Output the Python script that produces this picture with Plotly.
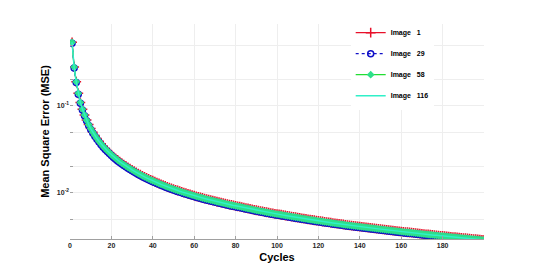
import plotly.graph_objects as go

cycles = list(range(1, 201))

# MSE (the four curves coincide at this resolution)
mse_values = [
    0.540, 0.280, 0.190, 0.140, 0.110, 0.0920, 0.0790, 0.0690, 0.0612, 0.0550,
    0.0500, 0.0458, 0.0423, 0.0393, 0.0367, 0.0344, 0.0324, 0.0306, 0.0290, 0.0275,
    0.0262, 0.0250, 0.0239, 0.0229, 0.0220, 0.0212, 0.0204, 0.0197, 0.0190, 0.0184,
    0.0178, 0.0172, 0.0167, 0.0162, 0.0157, 0.0153, 0.0149, 0.0145, 0.0141, 0.0138,
    0.01346, 0.01314, 0.01284, 0.01255, 0.01228, 0.01201, 0.01176, 0.01152, 0.01129, 0.01107,
    0.01086, 0.01066, 0.01047, 0.01028, 0.01010, 0.00993, 0.00976, 0.00960, 0.00944, 0.00930,
    0.00915, 0.00901, 0.00887, 0.00874, 0.00861, 0.00849, 0.00837, 0.00825, 0.00814, 0.00803,
    0.00792, 0.00782, 0.00772, 0.00762, 0.00753, 0.00744, 0.00735, 0.00726, 0.00718, 0.00710,
    0.00702, 0.00694, 0.00686, 0.00677, 0.00669, 0.00662, 0.00654, 0.00647, 0.00639, 0.00632,
    0.00625, 0.00618, 0.00612, 0.00605, 0.00599, 0.00593, 0.00587, 0.00581, 0.00575, 0.00569,
    0.005663, 0.005608, 0.005553, 0.005500, 0.005448, 0.005396, 0.005346, 0.005296, 0.005248, 0.005200,
    0.005153, 0.005107, 0.005062, 0.005018, 0.004974, 0.004931, 0.004889, 0.004847, 0.004807, 0.004767,
    0.004727, 0.004689, 0.004650, 0.004613, 0.004576, 0.004540, 0.004504, 0.004469, 0.004434, 0.004400,
    0.004366, 0.004333, 0.004301, 0.004269, 0.004237, 0.004206, 0.004175, 0.004145, 0.004115, 0.004086,
    0.004078, 0.004049, 0.004021, 0.003993, 0.003966, 0.003938, 0.003912, 0.003885, 0.003859, 0.003833,
    0.003808, 0.003783, 0.003758, 0.003734, 0.003710, 0.003686, 0.003662, 0.003639, 0.003616, 0.003594,
    0.003571, 0.003549, 0.003528, 0.003506, 0.003485, 0.003464, 0.003443, 0.003423, 0.003402, 0.003382,
    0.003363, 0.003343, 0.003324, 0.003305, 0.003286, 0.003267, 0.003249, 0.003230, 0.003212, 0.003194,
    0.003177, 0.003159, 0.003142, 0.003125, 0.003108, 0.003091, 0.003075, 0.003059, 0.003042, 0.003026,
    0.003010, 0.002995, 0.002979, 0.002964, 0.002949, 0.002934, 0.002919, 0.002904, 0.002889, 0.002875,
]

mse_image1 = mse_values
mse_image29 = mse_values
mse_image58 = mse_values
mse_image116 = mse_values

series_names = ["Image\u00a0\u00a0\u00a01", "Image\u00a0\u00a0\u00a029",
                "Image\u00a0\u00a0\u00a058", "Image\u00a0\u00a0\u00a0116"]

x_ticks = [0, 20, 40, 60, 80, 100, 120, 140, 160, 180]
y_tickvals = [0.005, 0.01, 0.02, 0.05, 0.1, 0.2, 0.5]
y_ticktext = ["", "10<sup>-2</sup>", "", "", "10<sup>-1</sup>", "", ""]

FONT = "Liberation Sans, Arial, sans-serif"
LOG_LO, LOG_HI = -2.53, -0.057

fig = go.Figure()

fig.add_trace(go.Scatter(
    x=cycles, y=mse_image1, name=series_names[0],
    mode="lines+markers", legendgroup="a",
    line=dict(color="#e8102a", width=1.2),
    marker=dict(symbol="cross-thin", size=7, line=dict(color="#e8102a", width=1.5)),
))
fig.add_trace(go.Scatter(
    x=cycles, y=mse_image29, name=series_names[1], yaxis="y3",
    mode="lines+markers", legendgroup="b",
    line=dict(color="#1010c8", width=1.2, dash="dot"),
    marker=dict(symbol="circle-open", size=6, line=dict(color="#1a1a70", width=1.5)),
))
fig.add_trace(go.Scatter(
    x=cycles, y=mse_image58, name=series_names[2], yaxis="y4",
    mode="lines+markers", legendgroup="c",
    line=dict(color="#22dd33", width=1.2),
    marker=dict(symbol="diamond", size=6, color="#2ee08a"),
))
fig.add_trace(go.Scatter(
    x=cycles, y=mse_image116, name=series_names[3], yaxis="y5",
    mode="lines", legendgroup="d",
    line=dict(color="#30f0c8", width=1.5),
))

fig.update_layout(
    width=536, height=269,
    margin=dict(l=70, r=52, t=24, b=30, autoexpand=False),
    paper_bgcolor="white", plot_bgcolor="white",
    font=dict(family=FONT),
    showlegend=True,
    legend=dict(
        x=0.678, y=1.027, xanchor="left", yanchor="top",
        bgcolor="white", borderwidth=0,
        font=dict(family=FONT, size=7, color="black", weight="bold"),
        tracegroupgap=2, traceorder="grouped",
        itemwidth=30,
    ),
    xaxis=dict(
        range=[0, 200], tickvals=x_ticks, automargin=False,
        showgrid=True, gridcolor="#eeeeee", gridwidth=1,
        showline=True, linecolor="#a0a0a0", linewidth=1,
        ticks="inside", ticklen=3, tickcolor="#a0a0a0",
        tickfont=dict(family=FONT, size=7, color="#262626", weight="bold"),
        title=dict(text="Cycles", standoff=4,
                   font=dict(family=FONT, size=11, color="black", weight="bold")),
        zeroline=False,
    ),
    yaxis=dict(
        type="log", range=[LOG_LO, LOG_HI], automargin=False,
        tickvals=y_tickvals, ticktext=y_ticktext,
        showgrid=True, gridcolor="#eeeeee", gridwidth=1,
        showline=False,
        ticks="inside", ticklen=3, tickcolor="#a0a0a0",
        tickfont=dict(family=FONT, size=7, color="#262626", weight="bold"),
        title=dict(text="Mean Square Error (MSE)", standoff=4,
                   font=dict(family=FONT, size=11, color="black", weight="bold")),
        zeroline=False,
    ),
    yaxis3=dict(type="log", overlaying="y", range=[LOG_LO + 0.010, LOG_HI + 0.010],
                visible=False),
    yaxis4=dict(type="log", overlaying="y", range=[LOG_LO, LOG_HI], visible=False),
    yaxis5=dict(type="log", overlaying="y", range=[LOG_LO, LOG_HI], visible=False),
)

fig.write_html("out.html", config={"displayModeBar": False},
               post_script="document.body.style.margin='0';")
